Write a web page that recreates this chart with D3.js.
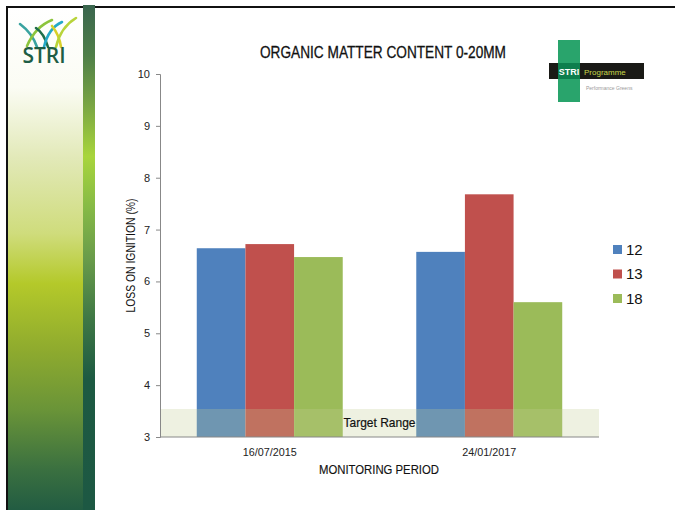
<!DOCTYPE html>
<html>
<head>
<meta charset="utf-8">
<script src="https://cdn.jsdelivr.net/npm/d3@7"></script>
<style>
  html, body { margin: 0; padding: 0; background: #fff; }
  svg { display: block; }
  text { font-family: "Liberation Sans Narrow", "Arial Narrow", "Liberation Sans", sans-serif; }
</style>
</head>
<body>
<svg id="chart" width="675" height="510"></svg>
<script>
// ---- data ----
const categories = ["16/07/2015", "24/01/2017"];
const seriesNames = ["12", "13", "18"];
const values12 = [6.64, 6.57];
const values13 = [6.72, 7.68];
const values18 = [6.47, 5.60];
const seriesColors = ["#4f81bd", "#c0504d", "#9bbb59"];
const yTicks = [3, 4, 5, 6, 7, 8, 9, 10];
const targetRange = [3, 3.54];

const seriesValues = [values12, values13, values18];
const rows = categories.map((c, i) => ({ cat: c, vals: seriesNames.map((s, j) => ({ key: s, value: seriesValues[j][i], color: seriesColors[j] })) }));

const svg = d3.select("#chart");
const defs = svg.append("defs");

// ---- decoration: left gradient panel ----
const g1 = defs.append("linearGradient").attr("id", "panelGrad").attr("x1", 0).attr("y1", 0).attr("x2", 0).attr("y2", 1);
[[0, "#ffffff"], [0.16, "#fbfcf4"], [0.3, "#e2e9b8"], [0.45, "#cfdc7c"], [0.55, "#b4c92a"], [0.68, "#8fab2e"], [0.8, "#6a9438"], [0.92, "#3a7040"], [1, "#225c42"]]
  .forEach(([o, c]) => g1.append("stop").attr("offset", o).attr("stop-color", c));
svg.append("rect").attr("x", 8).attr("y", 7).attr("width", 75).attr("height", 503).attr("fill", "url(#panelGrad)");

const g2 = defs.append("linearGradient").attr("id", "stripGrad").attr("x1", 0).attr("y1", 0).attr("x2", 0).attr("y2", 1);
[[0, "#3a664e"], [0.1, "#4f7f48"], [0.2, "#7aa643"], [0.3, "#a8d53c"], [0.4, "#86ba46"], [0.5, "#6a9c4a"], [0.62, "#3f7845"], [0.74, "#1d5a42"], [1, "#1d5843"]]
  .forEach(([o, c]) => g2.append("stop").attr("offset", o).attr("stop-color", c));
svg.append("rect").attr("x", 83).attr("y", 5).attr("width", 12).attr("height", 505).attr("fill", "url(#stripGrad)");

// frame lines
svg.append("rect").attr("x", 6).attr("y", 6).attr("width", 669).attr("height", 2).attr("fill", "#111");
svg.append("rect").attr("x", 6).attr("y", 6).attr("width", 2).attr("height", 504).attr("fill", "#111");
svg.append("rect").attr("x", 83).attr("y", 5).attr("width", 12).attr("height", 3).attr("fill", "#3a664e");

// STRI logo (top-left)
const logo = svg.append("g");
const blades = [
  { d: "M20,24 C28,30 34,38 37,47", c: "#3aa3a0" },
  { d: "M27,46 C33,32 42,24 52,20", c: "#8cc43c" },
  { d: "M36,28 C42,32 46,40 48,47", c: "#1f6e4a" },
  { d: "M44,47 C47,34 53,26 62,22", c: "#25a9c8" },
  { d: "M52,26 C57,32 60,40 61,47", c: "#d8d02a" },
  { d: "M56,47 C59,34 66,24 76,18", c: "#b8d43a" }
];
blades.forEach(b => logo.append("path").attr("d", b.d).attr("fill", "none").attr("stroke", b.c).attr("stroke-width", 2.6).attr("stroke-linecap", "round"));
logo.append("text").attr("x", 44).attr("y", 63).attr("text-anchor", "middle")
  .style("font-family", "'Open Sans', 'DejaVu Sans', sans-serif").style("font-weight", 600)
  .style("font-size", "21px").attr("fill", "#1e5d45").text("STRI");

// STRI Programme logo (top-right)
const rl = svg.append("g");
rl.append("rect").attr("x", 558).attr("y", 40).attr("width", 22).attr("height", 62).attr("fill", "#129a5c").attr("opacity", 0.9);
rl.append("rect").attr("x", 549).attr("y", 63).attr("width", 95).attr("height", 16).attr("fill", "#1a1a16");
rl.append("rect").attr("x", 558).attr("y", 63).attr("width", 22).attr("height", 16).attr("fill", "#0d7e4d");
rl.append("text").attr("x", 569).attr("y", 75).attr("text-anchor", "middle").style("font-size", "9px").style("font-weight", "bold").attr("fill", "#ffffff").text("STRI");
rl.append("text").attr("x", 584).attr("y", 75).style("font-size", "8px").attr("fill", "#c9d94a").text("Programme");
rl.append("text").attr("x", 586).attr("y", 90).style("font-size", "5px").attr("fill", "#9a9a9a").text("Performance Greens");

// ---- chart ----
const margin = { left: 160, right: 599, top: 74, bottom: 437 };
const x0 = d3.scaleBand().domain(categories).range([margin.left, margin.right]).paddingInner(0.335).paddingOuter(0.1675);
const x1 = d3.scaleBand().domain(seriesNames).range([0, x0.bandwidth()]);
const y = d3.scaleLinear().domain([3, 10]).range([margin.bottom, margin.top]);

// bars
const groups = svg.append("g").selectAll("g").data(rows).join("g")
  .attr("transform", d => `translate(${x0(d.cat)},0)`);
groups.selectAll("rect").data(d => d.vals).join("rect")
  .attr("x", d => x1(d.key))
  .attr("y", d => y(d.value))
  .attr("width", x1.bandwidth())
  .attr("height", d => y(3) - y(d.value))
  .attr("fill", d => d.color);

// target range band
svg.append("rect")
  .attr("x", margin.left).attr("width", margin.right - margin.left)
  .attr("y", y(targetRange[1])).attr("height", y(targetRange[0]) - y(targetRange[1]))
  .attr("fill", "rgb(194,205,148)").attr("fill-opacity", 0.28);
svg.append("text")
  .attr("x", (margin.left + margin.right) / 2).attr("y", (y(targetRange[0]) + y(targetRange[1])) / 2 + 4.5)
  .attr("text-anchor", "middle").style("font-size", "13px").attr("fill", "#111")
  .attr("stroke", "#111").attr("stroke-width", 0.2)
  .attr("textLength", 72).attr("lengthAdjust", "spacingAndGlyphs").text("Target Range");

// y axis
const yAxis = d3.axisLeft(y).tickValues(yTicks).tickSize(4).tickPadding(6).tickFormat(d3.format("d"));
const ya = svg.append("g").attr("transform", `translate(${margin.left},0)`).call(yAxis);
ya.select(".domain").attr("stroke", "#888");
ya.selectAll(".tick line").attr("stroke", "#888");
ya.selectAll(".tick text").style("font-size", "11px").attr("fill", "#222")
  .style("font-family", "'Liberation Sans', sans-serif");

// x axis
const xAxis = d3.axisBottom(x0).tickSize(0).tickPadding(11);
const xa = svg.append("g").attr("transform", `translate(0,${margin.bottom})`).call(xAxis);
xa.select(".domain").attr("stroke", "#888").attr("d", `M${margin.left},0H${margin.right}`);
xa.selectAll(".tick text").style("font-size", "11px").attr("fill", "#222")
  .attr("textLength", 54).attr("lengthAdjust", "spacingAndGlyphs");

// titles
svg.append("text").attr("x", 383).attr("y", 58).attr("text-anchor", "middle")
  .style("font-size", "17px").attr("fill", "#111").attr("stroke", "#111").attr("stroke-width", 0.3)
  .attr("textLength", 246).attr("lengthAdjust", "spacingAndGlyphs").text("ORGANIC MATTER CONTENT 0-20MM");
svg.append("text").attr("x", 379).attr("y", 474).attr("text-anchor", "middle")
  .style("font-size", "13.5px").attr("fill", "#111").attr("stroke", "#111").attr("stroke-width", 0.15)
  .attr("textLength", 120).attr("lengthAdjust", "spacingAndGlyphs").text("MONITORING PERIOD");
svg.append("text").attr("transform", `translate(135,${(margin.top + margin.bottom) / 2}) rotate(-90)`)
  .attr("text-anchor", "middle").style("font-size", "12.5px").attr("fill", "#111")
  .attr("textLength", 114).attr("lengthAdjust", "spacingAndGlyphs").text("LOSS ON IGNITION (%)");

// legend
const lg = svg.append("g").selectAll("g").data(seriesNames).join("g")
  .attr("transform", (d, i) => `translate(613,${245 + i * 24.5})`);
lg.append("rect").attr("width", 9).attr("height", 9).attr("fill", (d, i) => seriesColors[i]);
lg.append("text").attr("x", 13).attr("y", 9.5).style("font-size", "15px").attr("fill", "#111")
  .style("font-family", "'Liberation Sans', Arial, sans-serif").text(d => d);
</script>
</body>
</html>
